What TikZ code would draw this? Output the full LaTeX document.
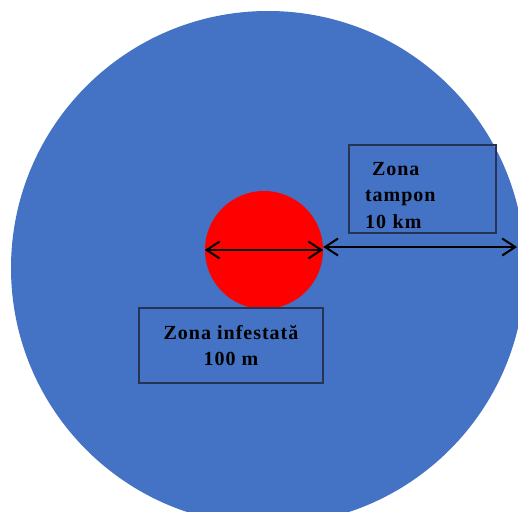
\documentclass[tikz,border=0pt]{standalone}
\usepackage{fontspec}
\setmainfont{Liberation Serif}
\usetikzlibrary{arrows.meta}
\definecolor{zoneblue}{HTML}{4472C4}
\definecolor{zonered}{HTML}{FF0000}
\definecolor{boxline}{HTML}{263354}
\tikzset{
  zone/.style={circle, inner sep=0pt},
  labelbox/.style={draw=boxline, line width=1.3pt, inner sep=0pt, font=\bfseries\fontsize{20}{26.5}\selectfont\addfontfeature{LetterSpace=5}},
  dimarrow/.style={line width=2pt, {Straight Barb[length=13pt,width=17pt,line width=2pt]}-{Straight Barb[length=13pt,width=17pt,line width=2pt]}}
}
\begin{document}
\begin{tikzpicture}[x=1pt,y=-1pt]
\useasboundingbox (0,0) rectangle (518,511);
\clip (0,0) rectangle (518,511);
\fill[white] (0,0) rectangle (518,511);
\node[zone, fill=zoneblue, minimum size=514pt] (buffer) at (268,268) {};
\node[zone, fill=zonered, minimum size=118pt] (infested) at (264,250) {};
\coordinate (edge) at (517,247);
\draw[dimarrow] (infested.west) -- (infested.east);
\draw[dimarrow] (infested.east |- edge) -- (edge);
\node[labelbox, minimum width=147pt, minimum height=88pt, text width=115pt, align=left] (tampon) at (422.5,189) {\rule{0pt}{26pt}\hspace*{7pt}Zona\\tampon\\10 km};
\node[labelbox, minimum width=184pt, minimum height=75pt, align=center] (infestlabel) at (231,345.5) {Zona infestată\\100 m};
\end{tikzpicture}
\end{document}
